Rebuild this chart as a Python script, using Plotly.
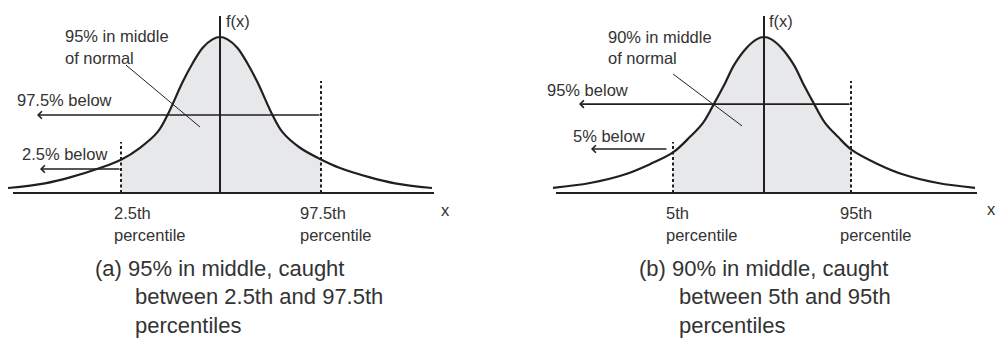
import plotly.graph_objects as go

W, H = 997, 339

# ---- data ---------------------------------------------------------------
# Sampled density curves (position along x, height relative to the peak)
curve_a_x = [-4.24, -3.5, -3.0, -2.4, -1.98, -1.6, -1.25, -1.05, -0.75, -0.55, -0.35, -0.15, 0.0,
             0.15, 0.35, 0.55, 0.75, 1.05, 1.25, 1.6, 2.02, 2.4, 3.0, 3.5, 4.24]
curve_a_y = [0.032, 0.062, 0.10, 0.16, 0.213, 0.29, 0.39, 0.50, 0.71, 0.83, 0.93, 0.985, 1.0,
             0.985, 0.93, 0.83, 0.71, 0.50, 0.39, 0.29, 0.215, 0.16, 0.10, 0.062, 0.032]

curve_b_x = [-4.22, -3.48, -2.82, -2.28, -1.82, -1.48, -1.22, -1.02, -0.8, -0.6, -0.35, -0.15, 0.0,
             0.15, 0.35, 0.6, 0.8, 1.02, 1.22, 1.48, 1.74, 2.28, 2.82, 3.48, 4.22]
curve_b_y = [0.033, 0.064, 0.115, 0.185, 0.26, 0.36, 0.45, 0.56, 0.69, 0.82, 0.93, 0.985, 1.0,
             0.985, 0.93, 0.82, 0.69, 0.56, 0.45, 0.36, 0.28, 0.185, 0.115, 0.064, 0.033]

# Percentile cut points (lower, upper) on each curve
cuts_a = [-1.98, 2.02]
cuts_b = [-1.82, 1.74]

cut_labels_a = ["2.5th", "97.5th"]
cut_labels_b = ["5th", "95th"]
below_labels_a = ["2.5% below", "97.5% below"]
below_labels_b = ["5% below", "95% below"]
middle_labels = [["95% in middle", "of normal"], ["90% in middle", "of normal"]]
caption_first = ["(a) 95% in middle, caught", "(b) 90% in middle, caught"]
caption_rest = ["between 2.5th and 97.5th<br>percentiles", "between 5th and 95th<br>percentiles"]

# ---- styling --------------------------------------------------------------
INK = "#231f20"
TEXT = "#333333"
FILL = "#e7e8e9"
FONT = "Liberation Sans, Arial, Helvetica, sans-serif"
LBL = 16.5
CAP = 22

# pixel layout: x_px = cx + 50*x, y_px = 193 - 156*y
SX, BASE, SY = 50.0, 193.0, 156.0
Y_RANGE = [(BASE - H) / SY, BASE / SY]


def px(x):
    return x / W


def py(y):
    return 1 - y / H


panels = [
    dict(xa="x", cx=220.0, dom=[0, 0.5], cx_curve=curve_a_x, cy_curve=curve_a_y, cuts=cuts_a,
         cut_labels=cut_labels_a, below=below_labels_a, middle=middle_labels[0],
         cap1=caption_first[0], cap2=caption_rest[0],
         base_ends=[-4.14, 4.28],
         low_arrow=dict(y=0.154, tail=-1.98, head=-3.6),
         up_arrow=dict(y=0.50, head=-3.66),
         leader=[(-1.88, 0.82), (-0.40, 0.423)],
         fx=(224, 21), mid_txt=(63, 36, 58), up_txt=(15, 100), low_txt=(20, 154),
         cut_txt=[112, 298], x_txt=(439, 210), cap_txt=(93, 133)),
    dict(xa="x2", cx=764.0, dom=[0.5, 1], cx_curve=curve_b_x, cy_curve=curve_b_y, cuts=cuts_b,
         cut_labels=cut_labels_b, below=below_labels_b, middle=middle_labels[1],
         cap1=caption_first[1], cap2=caption_rest[1],
         base_ends=[-4.16, 4.26],
         low_arrow=dict(y=0.282, tail=-1.92, head=-3.46),
         up_arrow=dict(y=0.57, head=-3.7),
         leader=[(-1.82, 0.763), (-0.44, 0.43)],
         fx=(767, 21), mid_txt=(606, 37, 58), up_txt=(545, 90), low_txt=(571, 136),
         cut_txt=[664, 838], x_txt=(985, 209), cap_txt=(637, 677)),
]

DASH_TOPS = [0.327, 0.718]
AXIS_TOP = 1.135

fig = go.Figure()
annotations = []


def text(x, y, s, size=LBL):
    annotations.append(dict(x=px(x), y=py(y), xref="paper", yref="paper", text=s,
                            showarrow=False, xanchor="left", yanchor="middle",
                            align="left", font=dict(family=FONT, size=size, color=TEXT)))


for p in panels:
    xa = p["xa"]
    ya = "y"
    lo, hi = p["cuts"]
    xs, ys = p["cx_curve"], p["cy_curve"]

    # shaded middle region
    mid = [(x, y) for x, y in zip(xs, ys) if lo <= x <= hi]
    fig.add_trace(go.Scatter(x=[m[0] for m in mid], y=[m[1] for m in mid], mode="lines",
                             line=dict(width=0, shape="spline", color=FILL), fill="tozeroy",
                             fillcolor=FILL, hoverinfo="skip", xaxis=xa, yaxis=ya))
    # density curve
    fig.add_trace(go.Scatter(x=xs, y=ys, mode="lines", line=dict(color=INK, width=2.2, shape="spline"),
                             hoverinfo="skip", xaxis=xa, yaxis=ya))
    # baseline and vertical axis
    fig.add_trace(go.Scatter(x=p["base_ends"], y=[0, 0], mode="lines", line=dict(color=INK, width=2),
                             hoverinfo="skip", xaxis=xa, yaxis=ya))
    fig.add_trace(go.Scatter(x=[0, 0], y=[0, AXIS_TOP], mode="lines", line=dict(color=INK, width=2),
                             hoverinfo="skip", xaxis=xa, yaxis=ya))
    # dashed percentile markers
    for c, top in zip(p["cuts"], DASH_TOPS):
        fig.add_trace(go.Scatter(x=[c, c], y=[0, top], mode="lines",
                                 line=dict(color=INK, width=2, dash="3px,2.5px"),
                                 hoverinfo="skip", xaxis=xa, yaxis=ya))
    # leader line to the middle label
    (x0, y0), (x1, y1) = p["leader"]
    fig.add_trace(go.Scatter(x=[x0, x1], y=[y0, y1], mode="lines", line=dict(color=INK, width=1),
                             hoverinfo="skip", xaxis=xa, yaxis=ya))

    # "below" arrows
    la, ua = p["low_arrow"], p["up_arrow"]
    for tail, head, yv in [(la["tail"], la["head"], la["y"]), (hi, ua["head"], ua["y"])]:
        annotations.append(dict(x=head, y=yv, ax=tail, ay=yv, xref=xa, yref=ya, axref=xa, ayref=ya,
                                text="", showarrow=True, arrowhead=4, arrowsize=0.9,
                                arrowwidth=1.6, arrowcolor=INK, standoff=0, startstandoff=0))

    # text
    text(p["fx"][0], p["fx"][1], "f(x)")
    mx, my1, my2 = p["mid_txt"]
    text(mx, my1, p["middle"][0])
    text(mx, my2, p["middle"][1])
    text(p["up_txt"][0], p["up_txt"][1], p["below"][1])
    text(p["low_txt"][0], p["low_txt"][1], p["below"][0])
    for xpos, lab in zip(p["cut_txt"], p["cut_labels"]):
        text(xpos, 213, lab)
        text(xpos, 235, "percentile")
    text(p["x_txt"][0], p["x_txt"][1], "x")
    text(p["cap_txt"][0], 268, p["cap1"], CAP)
    annotations.append(dict(x=px(p["cap_txt"][1]), y=py(282), xref="paper", yref="paper",
                            text=p["cap2"], showarrow=False, xanchor="left", yanchor="top",
                            align="left", font=dict(family=FONT, size=CAP, color=TEXT)))

ax_common = dict(visible=False, fixedrange=True, showgrid=False, zeroline=False)
fig.update_layout(
    width=W, height=H,
    margin=dict(l=0, r=0, t=0, b=0),
    paper_bgcolor="white", plot_bgcolor="white",
    showlegend=False,
    xaxis=dict(domain=[0, 0.5], range=[(0 - 220) / SX, (W / 2 - 220) / SX], anchor="y", **ax_common),
    xaxis2=dict(domain=[0.5, 1], range=[(W / 2 - 764) / SX, (W - 764) / SX], anchor="y", **ax_common),
    yaxis=dict(domain=[0, 1], range=Y_RANGE, **ax_common),
    annotations=annotations,
)

fig.write_html("out.html")
